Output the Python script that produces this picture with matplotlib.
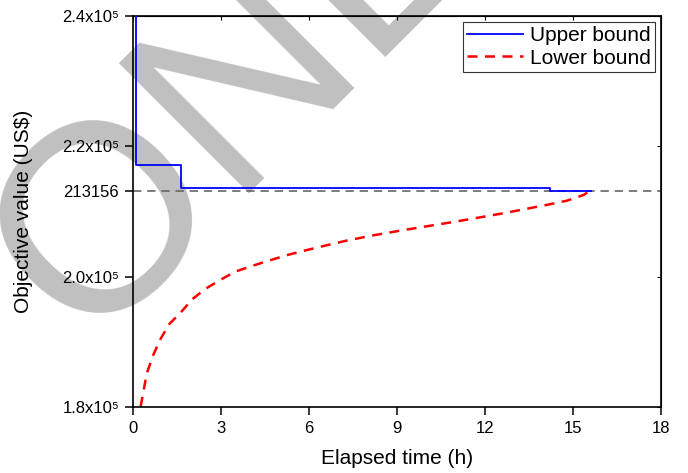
import matplotlib
matplotlib.use("Agg")
import matplotlib.pyplot as plt

plt.rcParams["font.family"] = ["Liberation Sans", "DejaVu Sans"]

# upper bound (step curve)
upper_t = [0.11, 0.11, 1.63, 1.63, 14.2, 14.2, 15.6]
upper_v = [250000, 217150, 217150, 213680, 213680, 213156, 213156]

# lower bound
lower_t = [0.26, 0.47, 0.69, 0.95, 1.24, 1.63, 2.03, 2.46, 2.97, 3.48, 4.08,
           4.70, 5.30, 5.93, 6.50, 7.3, 8.2, 9.22, 10.93, 12.64, 14.1, 14.8,
           15.37, 15.55]
lower_v = [180050, 185170, 187980, 190540, 192740, 194530, 196570, 198110,
           199490, 200760, 201680, 202560, 203370, 204090, 204710, 205550,
           206350, 207150, 208400, 209740, 211010, 211670, 212550, 213156]

optimum = 213156
x_ticks = [0, 3, 6, 9, 12, 15, 18]
y_ticks = [180000, 200000, 213156, 220000, 240000]
y_labels = ["1.8x10\u2075", "2.0x10\u2075", "213156", "2.2x10\u2075", "2.4x10\u2075"]


def main():
    fig = plt.figure(figsize=(6.88, 4.73), dpi=100)
    ax = fig.add_axes([0.1933, 0.1395, 0.7675, 0.8267])
    ax.set_facecolor("none")

    # watermark behind everything
    fig.text(0.122, 0.268, "ONLINE", fontsize=192, color="#c0c0c0",
             rotation=45, rotation_mode="anchor", ha="left", va="baseline",
             zorder=-10)

    ax.axhline(optimum, color="#666666", lw=1.2, ls=(0, (5, 3.5)), zorder=1)
    ax.plot(upper_t, upper_v, color="blue", lw=1.3, label="Upper bound", zorder=3)
    ax.plot(lower_t, lower_v, color="red", lw=1.8, ls=(0, (4, 3)),
            label="Lower bound", zorder=2)

    ax.set_xlim(0, 18)
    ax.set_ylim(180000, 240000)
    ax.set_xticks(x_ticks)
    ax.set_yticks(y_ticks)
    ax.set_yticklabels(y_labels)
    ax.tick_params(labelsize=12, direction="out", length=6, width=1.1,
                   pad=4, colors="black")

    for s in ax.spines.values():
        s.set_linewidth(1.2)

    top = ax.secondary_xaxis("top")
    top.set_xticks(x_ticks)
    top.tick_params(direction="in", length=3, width=0.8, labeltop=False)
    right = ax.secondary_yaxis("right")
    right.set_yticks([180000, 200000, 220000, 240000])
    right.tick_params(direction="in", length=3, width=0.8, labelright=False)

    ax.set_xlabel("Elapsed time (h)", fontsize=15)
    ax.set_ylabel("Objective value (US$)", fontsize=15)
    ax.xaxis.set_label_coords(0.5, -0.108)
    ax.yaxis.set_label_coords(-0.19, 0.5)

    leg = ax.legend(loc="upper right", fontsize=15, frameon=True, fancybox=False,
                    edgecolor="black", handlelength=2.7, handletextpad=0.3,
                    borderpad=0.2, borderaxespad=0.3, labelspacing=0.15)
    leg.get_frame().set_linewidth(0.8)

    fig.savefig("out.png", dpi=100)


if __name__ == "__main__":
    main()
